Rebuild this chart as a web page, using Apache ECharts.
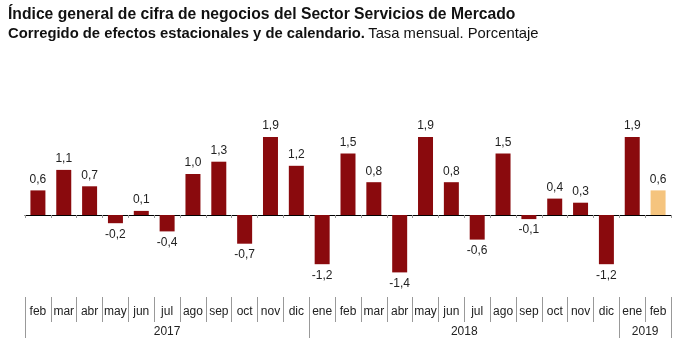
<!DOCTYPE html>
<html>
<head>
<meta charset="utf-8">
<script src="https://cdn.jsdelivr.net/npm/echarts@6/dist/echarts.min.js"></script>
<style>
  html, body { margin: 0; padding: 0; background: #fff; }
  #main { width: 680px; height: 353px; }
</style>
</head>
<body>
<div id="main"></div>
<script>
const months = ['feb', 'mar', 'abr', 'may', 'jun', 'jul', 'ago', 'sep', 'oct', 'nov', 'dic',
  'ene', 'feb', 'mar', 'abr', 'may', 'jun', 'jul', 'ago', 'sep', 'oct', 'nov', 'dic',
  'ene', 'feb'];
const values = [0.6, 1.1, 0.7, -0.2, 0.1, -0.4, 1.0, 1.3, -0.7, 1.9, 1.2,
  -1.2, 1.5, 0.8, -1.4, 1.9, 0.8, -0.6, 1.5, -0.1, 0.4, 0.3, -1.2,
  1.9, 0.6];
const years = ['2017', '2018', '2019'];
const yearStart = [0, 11, 23];   // index of first month of each year
const lastIsProvisional = true;

const n = months.length;
const yearTicks = yearStart.concat([n]);
const yearCenters = yearStart.map((s, i) => (s + yearTicks[i + 1]) / 2);

const fmt = v => v.toFixed(1).replace('.', ',');
const font = 'Liberation Sans, Arial, sans-serif';

const chart = echarts.init(document.getElementById('main'));

chart.setOption({
  animation: false,
  title: {
    left: 3,
    top: 2,
    itemGap: 3,
    text: 'Índice general de cifra de negocios del Sector Servicios de Mercado',
    textStyle: { fontFamily: font, fontSize: 15.7, fontWeight: 'bold', color: '#111' },
    subtext: '{b|Corregido de efectos estacionales y de calendario.} {n|Tasa mensual. Porcentaje}',
    subtextStyle: {
      rich: {
        b: { fontFamily: font, fontSize: 14.8, fontWeight: 'bold', color: '#111' },
        n: { fontFamily: font, fontSize: 14.8, color: '#111' }
      }
    }
  },
  grid: { left: 25, right: 9, top: 116.6, bottom: 72.4 },
  yAxis: { type: 'value', min: -1.6, max: 2.4, show: false },
  xAxis: [
    {
      type: 'category',
      data: months,
      position: 'bottom',
      axisLine: { onZero: true, lineStyle: { color: '#000', width: 1 } },
      axisTick: { show: true, interval: 0, length: 3, lineStyle: { color: '#999' } },
      axisLabel: { show: false }
    },
    {
      type: 'category',
      data: months,
      position: 'bottom',
      offset: 41.4,
      axisLine: { show: false, onZero: false },
      axisTick: { show: true, interval: 0, inside: true, length: 25, lineStyle: { color: '#999' } },
      axisLabel: { interval: 0, margin: -16, fontFamily: font, fontSize: 12, color: '#222' }
    },
    {
      type: 'value',
      min: 0,
      max: n,
      position: 'bottom',
      offset: 57.4,
      splitLine: { show: false },
      axisLine: { show: false, onZero: false },
      axisTick: { show: true, inside: true, length: 41, customValues: yearTicks, lineStyle: { color: '#999' } },
      axisLabel: {
        margin: -12,
        fontFamily: font, fontSize: 12, color: '#222',
        customValues: yearCenters,
        formatter: v => years[yearCenters.indexOf(v)]
      }
    }
  ],
  series: [{
    type: 'bar',
    xAxisIndex: 0,
    barWidth: '58%',
    data: values.map((v, i) => ({
      value: v,
      itemStyle: { color: (lastIsProvisional && i === n - 1) ? '#f5c47e' : '#8a0a0d' },
      label: { position: v >= 0 ? 'top' : 'bottom' }
    })),
    label: {
      show: true,
      distance: 5,
      fontFamily: font,
      fontSize: 12,
      color: '#222',
      formatter: p => fmt(p.value)
    }
  }]
});
</script>
</body>
</html>
